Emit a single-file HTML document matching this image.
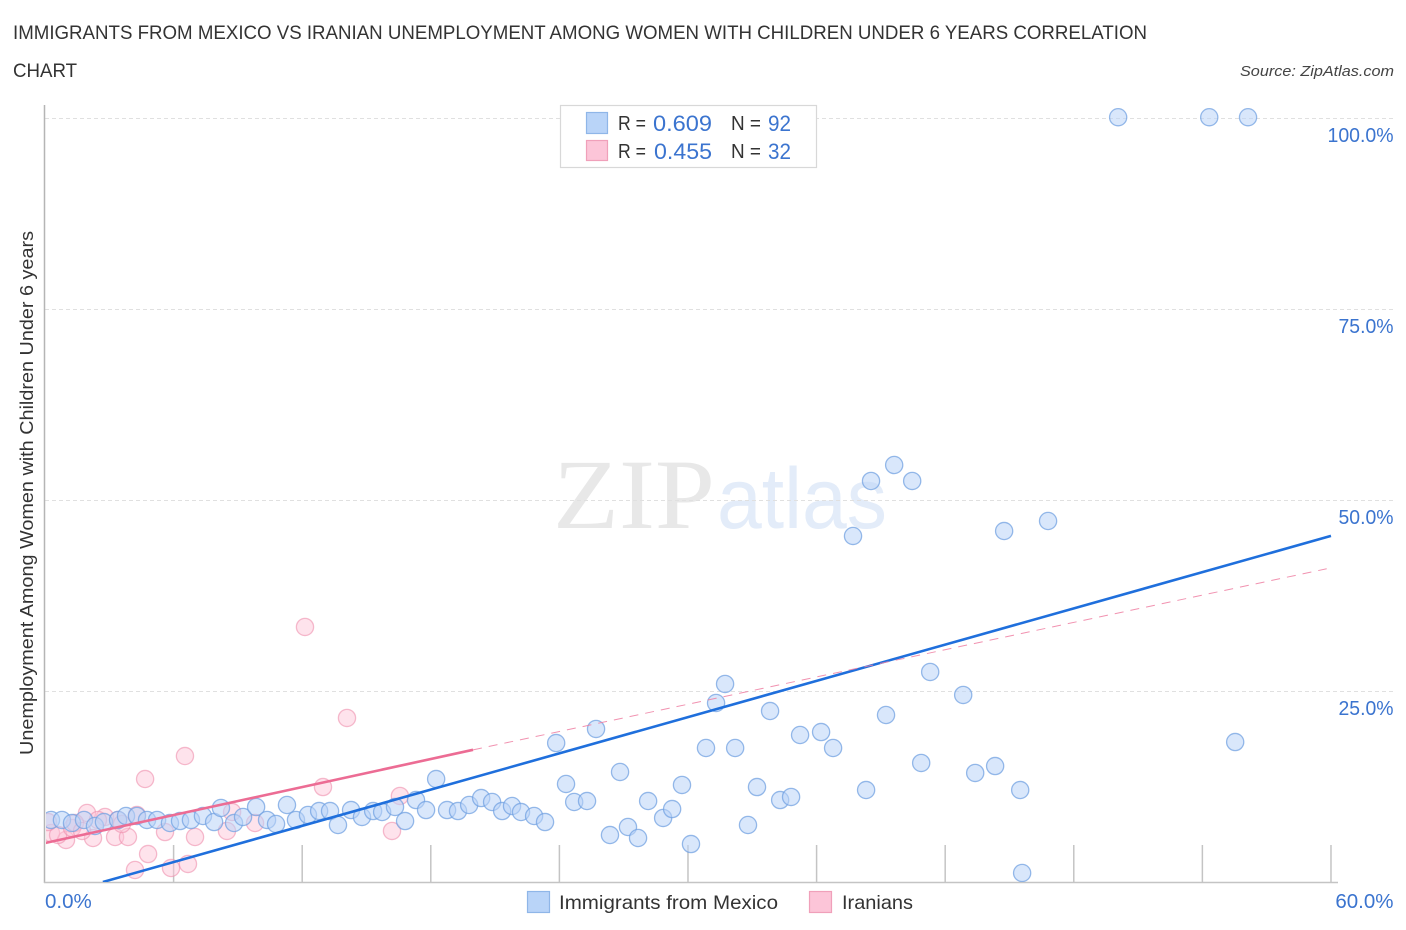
<!DOCTYPE html>
<html lang="en">
<head>
<meta charset="utf-8">
<title>Immigrants from Mexico vs Iranian Unemployment Correlation Chart</title>
<style>
html,body{margin:0;padding:0;background:#fff;}
body{width:1406px;height:930px;overflow:hidden;}
svg{display:block;font-family:"Liberation Sans",sans-serif;}
</style>
</head>
<body>
<svg id="chart" width="1406" height="930" viewBox="0 0 1406 930">
  <defs><clipPath id="plot-clip"><rect x="46" y="100" width="1300" height="782"/></clipPath></defs>
  <text x="13" y="39" font-size="19.5" fill="#333" textLength="1134" lengthAdjust="spacingAndGlyphs">IMMIGRANTS FROM MEXICO VS IRANIAN UNEMPLOYMENT AMONG WOMEN WITH CHILDREN UNDER 6 YEARS CORRELATION</text>
  <text x="13" y="77" font-size="19.5" fill="#333" textLength="64" lengthAdjust="spacingAndGlyphs">CHART</text>
  <text x="1394" y="76" font-size="15" font-style="italic" fill="#444" text-anchor="end" textLength="154" lengthAdjust="spacingAndGlyphs">Source: ZipAtlas.com</text>

  <g>
    <text x="553" y="528" font-family="'Liberation Serif',serif" font-size="100" fill="#e8e8e8" textLength="162" lengthAdjust="spacingAndGlyphs">ZIP</text>
    <text x="717" y="528" font-size="86" fill="#e3ecf9" textLength="170" lengthAdjust="spacingAndGlyphs">atlas</text>
  </g>

  <g id="grid"></g>
  <g id="axes">
    <line x1="44.5" y1="105" x2="44.5" y2="883" stroke="#b5b5b5" stroke-width="1.5"/>
    <line x1="44" y1="882.5" x2="1338" y2="882.5" stroke="#c4c4c4" stroke-width="1.5"/>
  </g>
  <g id="xticks"></g>
  <g id="ylabels"></g>
  <g id="xlabels"></g>
  <text transform="translate(33,493) rotate(-90)" font-size="18.5" fill="#333" text-anchor="middle" textLength="524" lengthAdjust="spacingAndGlyphs">Unemployment Among Women with Children Under 6 years</text>

  <g clip-path="url(#plot-clip)">
    <g id="pink-points"></g>
    <g id="blue-points"></g>
    <g id="trends"></g>
  </g>

  <g>
    <rect x="560.5" y="105.5" width="256" height="62" fill="#fff" stroke="#d8d8d8" stroke-width="1.2"/>
    <rect x="586.5" y="112.5" width="21" height="21" fill="#b9d4f8" stroke="#8fb6e8" stroke-width="1.2"/>
    <rect x="586.5" y="140.5" width="21" height="20" fill="#fcc5d8" stroke="#f0a0ba" stroke-width="1.2"/>
    <text x="618" y="130" font-size="20" fill="#333" textLength="28" lengthAdjust="spacingAndGlyphs">R =</text>
    <text x="653" y="131" font-size="22" fill="#3b74cf" textLength="59" lengthAdjust="spacingAndGlyphs">0.609</text>
    <text x="731" y="130" font-size="20" fill="#333" textLength="30" lengthAdjust="spacingAndGlyphs">N =</text>
    <text x="768" y="131" font-size="22" fill="#3b74cf" textLength="23" lengthAdjust="spacingAndGlyphs">92</text>
    <text x="618" y="158" font-size="20" fill="#333" textLength="28" lengthAdjust="spacingAndGlyphs">R =</text>
    <text x="654" y="159" font-size="22" fill="#3b74cf" textLength="58" lengthAdjust="spacingAndGlyphs">0.455</text>
    <text x="731" y="158" font-size="20" fill="#333" textLength="30" lengthAdjust="spacingAndGlyphs">N =</text>
    <text x="768" y="159" font-size="22" fill="#3b74cf" textLength="23" lengthAdjust="spacingAndGlyphs">32</text>
  </g>

  <g>
    <rect x="527.5" y="891.5" width="22" height="21" fill="#b9d4f8" stroke="#8fb6e8" stroke-width="1.2"/>
    <text x="559" y="909" font-size="19.5" fill="#333" textLength="219" lengthAdjust="spacingAndGlyphs">Immigrants from Mexico</text>
    <rect x="809.5" y="891.5" width="22" height="21" fill="#fcc5d8" stroke="#f0a0ba" stroke-width="1.2"/>
    <text x="842" y="909" font-size="19.5" fill="#333" textLength="71" lengthAdjust="spacingAndGlyphs">Iranians</text>
  </g>
</svg>
<script>
const blueX = [0.28,0.79,1.26,1.82,2.33,2.75,3.41,3.78,4.29,4.76,5.23,5.83,6.30,6.81,7.37,7.89,8.21,8.82,9.24,9.85,10.36,10.78,11.29,11.71,12.27,12.79,13.30,13.67,14.28,14.79,15.31,15.73,16.33,16.80,17.31,17.78,18.25,18.76,19.27,19.79,20.35,20.86,21.33,21.79,22.21,22.82,23.33,23.85,24.31,24.69,25.29,25.71,26.36,26.83,27.20,27.67,28.14,28.84,29.26,29.72,30.14,30.84,31.31,31.73,32.20,32.80,33.22,33.83,34.30,34.81,35.23,36.21,36.77,37.70,38.31,38.54,39.24,39.62,40.46,40.88,41.30,42.84,43.40,44.33,44.75,45.50,45.59,46.80,50.07,54.32,56.13,55.53];
const blueY = [8.12,8.12,7.72,8.12,7.33,7.85,8.12,8.64,8.64,8.12,8.12,7.72,7.98,8.12,8.64,7.85,9.69,7.72,8.51,9.82,8.12,7.59,10.08,8.12,8.77,9.29,9.29,7.46,9.42,8.51,9.29,9.16,9.82,7.98,10.73,9.42,13.48,9.42,9.29,10.08,10.99,10.47,9.29,9.95,9.16,8.64,7.85,18.19,12.83,10.47,10.60,20.03,6.15,14.40,7.20,5.76,10.60,8.38,9.55,12.70,4.97,17.54,23.43,25.92,17.54,7.46,12.43,22.38,10.73,11.13,19.24,19.63,17.54,45.29,12.04,52.49,21.86,54.58,52.49,15.58,27.49,24.48,14.27,15.18,45.94,12.04,1.18,47.25,100.1,100.1,100.1,18.32];
const pinkX = [6.53,4.67,12.97,4.81,4.20,5.88,6.67,1.96,2.80,2.24,0.98,3.27,3.87,5.60,7.00,8.49,9.80,8.73,0.28,0.61,1.26,3.41,1.40,16.56,16.19,12.13,14.09,4.29,3.59,0.14,1.73,2.47];
const pinkY = [16.49,13.48,12.43,3.66,1.57,1.83,2.36,9.03,8.51,5.76,5.50,5.89,5.89,6.54,5.89,6.68,7.72,9.16,6.41,6.15,7.07,8.12,7.72,11.26,6.68,33.38,21.47,8.77,7.59,7.85,6.68,8.12];
const blueTrendX = [2.7,60];
const blueTrendY = [0,45.3];
const pinkSolidX = [0,19.97];
const pinkSolidY = [5.1,17.3];
const pinkDashX = [19.97,59.8];
const pinkDashY = [17.3,41];
const yTicks = [25,50,75,100];
const yTickLabels = ["25.0%","50.0%","75.0%","100.0%"];
const xTicks = [6,12,18,24,30,36,42,48,54,60];
const xEnds = [0,60];
const xEndLabels = ["0.0%","60.0%"];

const NS = 'http://www.w3.org/2000/svg';
const sx = v => 45 + v * 21.433;
const sy = v => 882 - v * 7.64;
function make(tag, parent, attrs){
  const el = document.createElementNS(NS, tag);
  for (const k in attrs) el.setAttribute(k, attrs[k]);
  document.getElementById(parent).appendChild(el);
  return el;
}

yTicks.forEach((v, i) => {
  const g = make('line', 'grid', {x1:45, x2:1393, y1:sy(v)+0.5, y2:sy(v)+0.5, stroke:'#e0e0e0', 'stroke-width':1, 'stroke-dasharray':'4 3'});
  
  
  const t = make('text', 'ylabels', {x:1393.5, y:sy(v)+24, 'text-anchor':'end', 'font-size':20.5, fill:'#3b74cf', textLength: yTickLabels[i].length * 11, lengthAdjust:'spacingAndGlyphs'});
  
  
  t.textContent = yTickLabels[i];
});

xTicks.forEach(v => {
  const l = make('line', 'xticks', {x1:sx(v), x2:sx(v), y1:845, y2:883, stroke:'#c4c4c4', 'stroke-width':1.5});
  
  
});

xEnds.forEach((v, i) => {
  const t = make('text', 'xlabels', {x: i === 0 ? sx(v) : 1393.5, y:908, 'text-anchor': i === 0 ? 'start' : 'end', 'font-size':20.5, fill:'#3b74cf'});
  
  
  t.textContent = xEndLabels[i];
});

pinkX.forEach((v, i) => {
  const c = make('circle', 'pink-points', {cx:sx(v), cy:sy(pinkY[i]), r:8.6, fill:'#fcc5d8', 'fill-opacity':0.48, stroke:'#ee8fae', 'stroke-opacity':0.6, 'stroke-width':1.3});
  
  
});

blueX.forEach((v, i) => {
  const c = make('circle', 'blue-points', {cx:sx(v), cy:sy(blueY[i]), r:8.6, fill:'#b9d4f8', 'fill-opacity':0.55, stroke:'#6f9fe0', 'stroke-opacity':0.72, 'stroke-width':1.3});
  
  
});

const blueLine = make('line', 'trends', {x1:sx(blueTrendX[0]), y1:sy(blueTrendY[0]), x2:sx(blueTrendX[1]), y2:sy(blueTrendY[1]), stroke:'#1f6fdc', 'stroke-width':2.6});


const pinkDash = make('line', 'trends', {x1:sx(pinkDashX[0]), y1:sy(pinkDashY[0]), x2:sx(pinkDashX[1]), y2:sy(pinkDashY[1]), stroke:'#ee7fa2', 'stroke-width':1, 'stroke-opacity':0.85, 'stroke-dasharray':'9 7'});


const pinkSolid = make('line', 'trends', {x1:sx(pinkSolidX[0]), y1:sy(pinkSolidY[0]), x2:sx(pinkSolidX[1]), y2:sy(pinkSolidY[1]), stroke:'#ec6c94', 'stroke-width':2.6});


</script>
</body>
</html>
